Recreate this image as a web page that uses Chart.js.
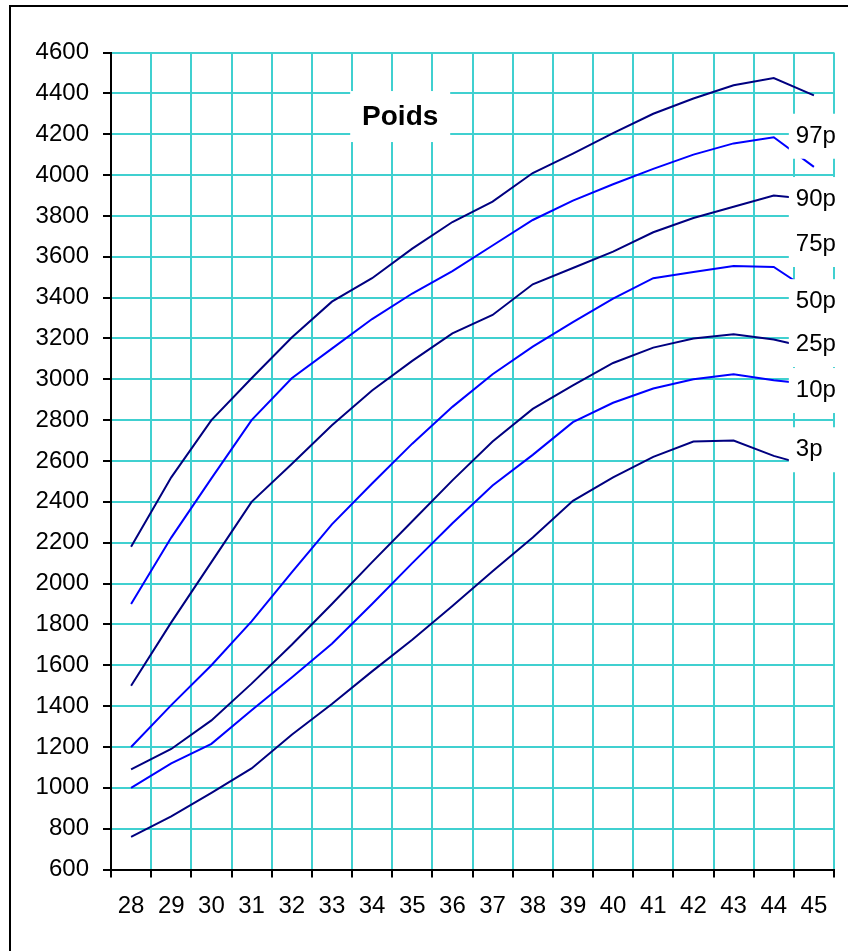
<!DOCTYPE html>
<html>
<head>
<meta charset="utf-8">
<script src="https://cdn.jsdelivr.net/npm/chart.js@4"></script>
<style>
  html, body { margin: 0; padding: 0; background: #fff; overflow: hidden; }
  #wrap { position: relative; width: 848px; height: 951px; }
  #frame { position: absolute; left: 9px; top: 5px; width: 1000px; height: 1000px; border: 2px solid #000; }
  canvas { position: absolute; left: 0; top: 0; }
</style>
</head>
<body>
<div id="wrap">
  <div id="frame"></div>
  <canvas id="chart" width="848" height="951"></canvas>
</div>
<script>
// semaines d'aménorrhée
const weeks = [28, 29, 30, 31, 32, 33, 34, 35, 36, 37, 38, 39, 40, 41, 42, 43, 44, 45];

// poids (g) par percentile
const p97 = [2180, 2520, 2800, 3005, 3205, 3380, 3495, 3640, 3770, 3870, 4010, 4105, 4205, 4300, 4375, 4440, 4475, 4390];
const p90 = [1900, 2225, 2515, 2800, 3005, 3150, 3295, 3420, 3530, 3655, 3780, 3875, 3955, 4030, 4100, 4155, 4185, 4040];
const p75 = [1500, 1810, 2105, 2400, 2585, 2775, 2945, 3090, 3225, 3315, 3465, 3545, 3625, 3720, 3790, 3845, 3900, 3880];
const p50 = [1200, 1405, 1600, 1815, 2055, 2290, 2490, 2685, 2865, 3025, 3160, 3280, 3395, 3495, 3525, 3555, 3550, 3420];
const p25 = [1090, 1190, 1330, 1510, 1700, 1900, 2105, 2305, 2505, 2695, 2855, 2970, 3080, 3155, 3200, 3220, 3195, 3150];
const p10 = [1000, 1120, 1215, 1380, 1540, 1705, 1900, 2100, 2295, 2480, 2630, 2790, 2885, 2955, 3000, 3025, 2995, 2975];
const p3  = [760, 860, 975, 1095, 1260, 1410, 1570, 1725, 1890, 2060, 2225, 2405, 2520, 2620, 2695, 2700, 2625, 2570];

const series = [p97, p90, p75, p50, p25, p10, p3];
const curveLabels = ['97p', '90p', '75p', '50p', '25p', '10p', '3p'];
// hauteur (g) des étiquettes à droite
const labelValues = [4190, 3880, 3660, 3380, 3170, 2945, 2655];
const title = 'Poids';

const yTicks = [600, 800, 1000, 1200, 1400, 1600, 1800, 2000, 2200, 2400, 2600, 2800, 3000, 3200, 3400, 3600, 3800, 4000, 4200, 4400, 4600];

const NAVY = '#000080';
const BLUE = '#0000ff';
const GRID = '#40d0d0';
const FONT = '"Liberation Sans", Arial, sans-serif';

// grille entre les semaines, étiquettes au milieu
const xTicks = weeks.flatMap(w => [w - 0.5, w]).concat([weeks[weeks.length - 1] + 0.5]);
const isWeek = v => Number.isInteger(v);

const labelsPlugin = {
    id: 'curveLabels',
    afterDraw(chart) {
        const { ctx, chartArea, scales: { x, y } } = chart;
        ctx.save();
        ctx.textBaseline = 'middle';

        // étiquettes des courbes (fond blanc)
        ctx.font = '24px ' + FONT;
        const left = x.getPixelForValue(weeks[weeks.length - 1] - 0.5);
        curveLabels.forEach((txt, i) => {
            const cy = y.getPixelForValue(labelValues[i]);
            ctx.fillStyle = '#fff';
            ctx.fillRect(left - 5, cy - 22.5, 70, 45);
            ctx.fillStyle = '#000';
            ctx.textAlign = 'left';
            ctx.fillText(txt, left + 2, cy);
        });

        // titre dans la zone du graphique
        const tx = chartArea.left + chartArea.width * 0.40;
        const ty = chartArea.top + chartArea.height * 0.079;
        ctx.fillStyle = '#fff';
        ctx.fillRect(tx - 50, ty - 26, 100, 51);
        ctx.fillStyle = '#000';
        ctx.textAlign = 'center';
        ctx.font = 'bold 28px ' + FONT;
        ctx.fillText(title, tx, ty);
        ctx.restore();
    }
};

new Chart(document.getElementById('chart'), {
    type: 'line',
    data: {
        datasets: series.map((s, i) => ({
            label: curveLabels[i],
            data: weeks.map((w, j) => ({ x: w, y: s[j] })),
            borderColor: i % 2 === 0 ? NAVY : BLUE,
            borderWidth: 2,
            pointRadius: 0,
            tension: 0,
            fill: false
        }))
    },
    options: {
        responsive: false,
        animation: false,
        devicePixelRatio: 1,
        layout: { padding: { left: 0, right: 11, top: 52.5, bottom: 0 } },
        plugins: {
            legend: { display: false },
            tooltip: { enabled: false },
            title: { display: false }
        },
        scales: {
            x: {
                type: 'linear',
                min: xTicks[0],
                max: xTicks[xTicks.length - 1],
                afterBuildTicks(axis) { axis.ticks = xTicks.map(v => ({ value: v })); },
                afterFit(axis) { axis.height = 81.5; },
                grid: {
                    color: ctx => isWeek(ctx.tick.value) ? 'rgba(0,0,0,0)' : GRID,
                    tickColor: ctx => isWeek(ctx.tick.value) ? 'rgba(0,0,0,0)' : '#000',
                    lineWidth: 2,
                    tickWidth: 2,
                    tickLength: 8
                },
                border: { color: '#000', width: 2 },
                ticks: {
                    autoSkip: false,
                    maxRotation: 0,
                    minRotation: 0,
                    padding: 14,
                    color: '#000',
                    font: { family: FONT, size: 24 },
                    callback: v => isWeek(v) ? String(v) : ''
                }
            },
            y: {
                min: yTicks[0],
                max: yTicks[yTicks.length - 1],
                afterBuildTicks(axis) { axis.ticks = yTicks.map(v => ({ value: v })); },
                afterFit(axis) { axis.width = 111; },
                grid: {
                    color: GRID,
                    tickColor: '#000',
                    lineWidth: 2,
                    tickWidth: 2,
                    tickLength: 8
                },
                border: { color: '#000', width: 2 },
                ticks: {
                    padding: 14,
                    color: '#000',
                    font: { family: FONT, size: 24 },
                    callback: v => String(v)
                }
            }
        }
    },
    plugins: [labelsPlugin]
});
</script>
</body>
</html>
